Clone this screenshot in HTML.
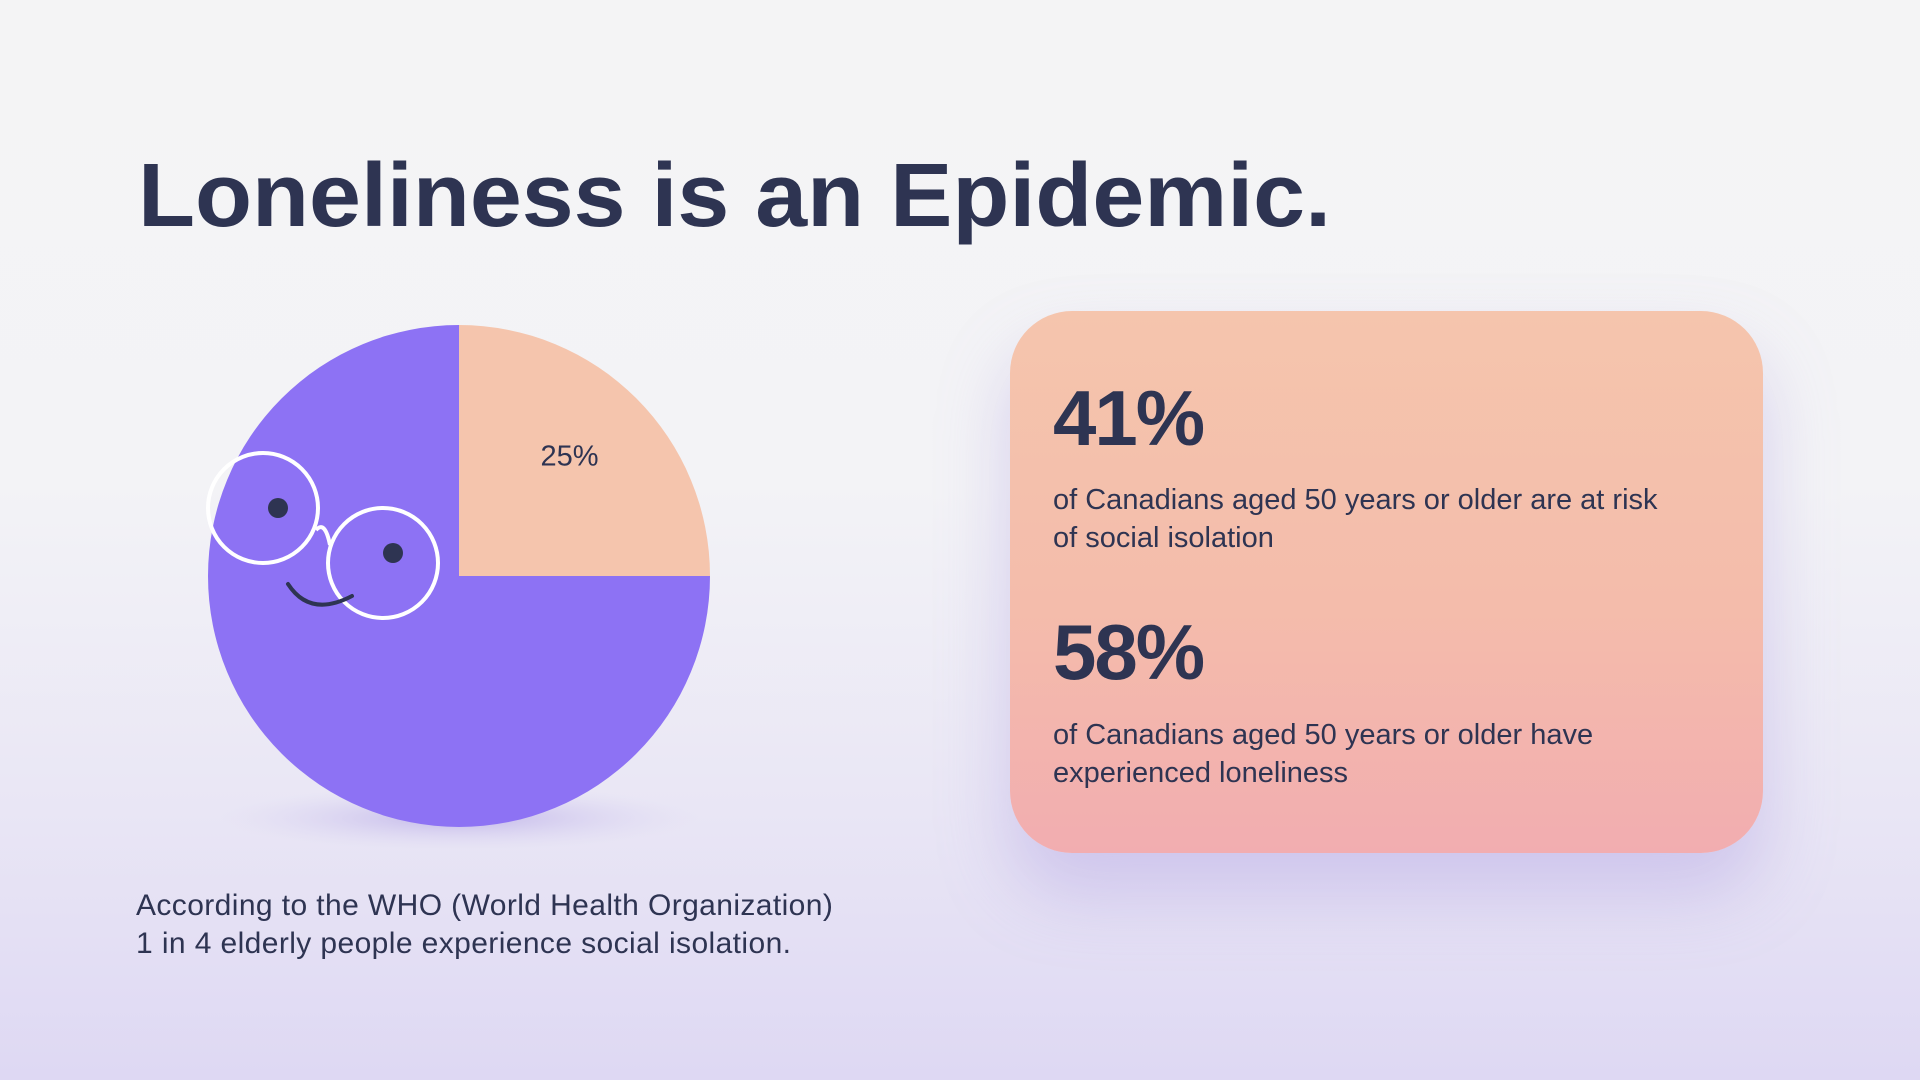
<!DOCTYPE html>
<html><head><meta charset="utf-8"><style>
html,body{margin:0;padding:0}
body{width:1920px;height:1080px;overflow:hidden;position:relative;font-family:"Liberation Sans",sans-serif;color:#2e3452;
background:linear-gradient(180deg,#f4f4f5 0%,#f3f3f6 45%,#e9e6f5 75%,#ded8f3 100%)}
.card{position:absolute;left:1010px;top:311px;width:753px;height:542px;border-radius:62px;
background:linear-gradient(180deg,#f5c5ad 0%,#f4bcab 55%,#f2adb0 100%);box-shadow:0 40px 70px rgba(160,140,220,0.35)}
.big{position:absolute;left:43px;font-weight:bold;font-size:78px;letter-spacing:-2px;line-height:1}
.para{position:absolute;left:43px;font-size:29px;line-height:38px;width:615px}
.foot{position:absolute;left:136px;top:887px;font-size:30px;line-height:38px;letter-spacing:0.4px}
</style></head><body>
<svg style="position:absolute;left:0;top:0" width="1920" height="260">
<text x="138" y="226" font-family="Liberation Sans, sans-serif" font-weight="bold" font-size="90" fill="#2e3452" textLength="1193" lengthAdjust="spacingAndGlyphs">Loneliness is an Epidemic.</text></svg>

<svg id="pie" style="position:absolute;left:0;top:0" width="900" height="880">
<defs><radialGradient id="sh"><stop offset="0" stop-color="#b7a9e6" stop-opacity="0.8"/><stop offset="1" stop-color="#d9d3f2" stop-opacity="0"/></radialGradient></defs>
<ellipse cx="459" cy="818" rx="240" ry="32" fill="url(#sh)"/>
<g id="slices"></g>
<g fill="none" stroke="#fff" stroke-width="4">
<circle cx="263" cy="508" r="55"/><circle cx="383" cy="563" r="55"/>
<path d="M316 530 Q325 520 330 545"/>
</g>
<circle cx="278" cy="508" r="10" fill="#2e3452"/>
<circle cx="393" cy="553" r="10" fill="#2e3452"/>
<path d="M288 584 Q310 618 352 596" fill="none" stroke="#2e3452" stroke-width="4" stroke-linecap="round"/>
</svg>

<div class="card">
<div class="big" style="top:68px">41%</div>
<div class="para" style="top:170px">of Canadians aged 50 years or older are at risk of social isolation</div>
<div class="big" style="top:302px">58%</div>
<div class="para" style="top:405px">of Canadians aged 50 years or older have experienced loneliness</div>
</div>
<div class="foot">According to the WHO (World Health Organization)<br>1 in 4 elderly people experience social isolation.</div>

<script>
const categories=["isolated","not isolated"];
const values=[25,75];
const labels=["25%",""];
const colors=["#f5c5ad","#8d72f4"];
const cx=459,cy=576,r=251;
const g=document.getElementById('slices');
const ns="http://www.w3.org/2000/svg";
const total=values.reduce((a,b)=>a+b,0);
function pt(a,rr){return [cx+rr*Math.sin(a),cy-rr*Math.cos(a)];}
let a0=0;
values.forEach((v,i)=>{
 const a1=a0+v/total*2*Math.PI;
 const p0=pt(a0,r),p1=pt(a1,r);
 const large=(a1-a0)>Math.PI?1:0;
 const p=document.createElementNS(ns,'path');
 p.setAttribute('d',`M${cx} ${cy} L${p0[0]} ${p0[1]} A${r} ${r} 0 ${large} 1 ${p1[0]} ${p1[1]} Z`);
 p.setAttribute('fill',colors[i]);
 
 
 g.appendChild(p);
 if(labels[i]){
  const m=(a0+a1)/2,lp=pt(m,r*0.6);
  const t=document.createElementNS(ns,'text');
  t.setAttribute('x',lp[0]+4);t.setAttribute('y',lp[1]-4);
  t.setAttribute('text-anchor','middle');t.setAttribute('font-size','29');
  t.setAttribute('fill','#2e3452');t.setAttribute('font-family','Liberation Sans, sans-serif');
  t.textContent=labels[i];
  
  
  g.appendChild(t);
 }
 a0=a1;
});
</script>
</body></html>
